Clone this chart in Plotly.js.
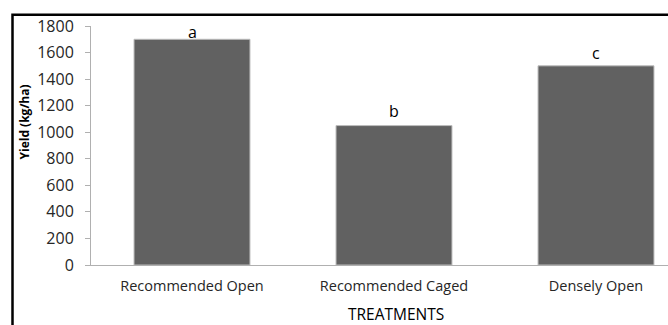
<!DOCTYPE html>
<html>
<head>
<meta charset="utf-8">
<script src="https://cdn.plot.ly/plotly-3.0.1.min.js"></script>
<style>
  html, body { margin: 0; padding: 0; background: #fff; }
  #chart { width: 668px; height: 325px; }
</style>
</head>
<body>
<div id="chart"></div>
<script>
// ---- data ----
const categories = ["Recommended Open", "Recommended Caged", "Densely Open"];
const yieldValues = [1700, 1050, 1500];
const letters = ["a", "b", "c"];
const yTicks = [0, 200, 400, 600, 800, 1000, 1200, 1400, 1600, 1800];

// ---- layout constants (pixels) ----
const W = 668, H = 325;
const L = 91, T = 26, B = 60, R = 0;
const plotW = W - L - R, plotH = H - T - B;
const catStep = 202;                 // px per category
const labelShift = [7.6, 14.3, 13];  // px above bar top for letter centres
const font = "Open Sans, Lato, sans-serif";

const xIdx = categories.map((c, i) => i);

const trace = {
  type: "bar",
  x: xIdx,
  y: yieldValues,
  width: 0.574,
  marker: { color: "#616161", line: { color: "#bdbdbd", width: 1 } },
  hoverinfo: "none"
};

const annotations = letters.map((t, i) => ({
  x: xIdx[i], y: yieldValues[i], xref: "x", yref: "y",
  text: t, showarrow: false, yanchor: "middle", xanchor: "center",
  yshift: labelShift[i],
  font: { family: font, size: 16, color: "#000" }
}));

annotations.push({
  x: 1, xref: "x", y: (-(313.5 - (H - B))) / plotH, yref: "paper",
  text: "TREATMENTS", showarrow: false, xanchor: "center", yanchor: "middle",
  xshift: 2,
  font: { family: font, size: 15.5, color: "#000" }
});
annotations.push({
  x: (24 - L) / plotW, xref: "paper", y: ((H - B) - 122.5) / plotH, yref: "paper",
  text: "<b>Yield (kg/ha)</b>", textangle: -90, showarrow: false,
  xanchor: "center", yanchor: "middle",
  font: { family: font, size: 12, color: "#000" }
});

const layout = {
  width: W, height: H,
  margin: { l: L, r: R, t: T, b: B, pad: 0 },
  paper_bgcolor: "#fff", plot_bgcolor: "#fff",
  showlegend: false,
  xaxis: {
    range: [-0.5, -0.5 + plotW / catStep],
    tickmode: "array", tickvals: xIdx, ticktext: categories,
    ticks: "", showgrid: false, zeroline: false,
    showline: true, linecolor: "#b0b0b0", linewidth: 1,
    tickfont: { family: font, size: 14.5, color: "#262626" },
    ticklabelstandoff: 8,
    fixedrange: true
  },
  yaxis: {
    range: [0, 1800],
    tickmode: "array", tickvals: yTicks, ticktext: yTicks.map(String),
    ticks: "outside", ticklen: 5, tickcolor: "#b0b0b0", tickwidth: 1,
    showgrid: false, zeroline: false,
    showline: true, linecolor: "#b0b0b0", linewidth: 1,
    tickfont: { family: font, size: 16, color: "#262626" },
    ticklabelstandoff: 8,
    fixedrange: true
  },
  annotations: annotations,
  shapes: [{
    type: "rect", xref: "paper", yref: "paper", layer: "above",
    x0: (12.5 - L) / plotW, x1: 1.2,
    y0: -0.6, y1: ((H - B) - 14.7) / plotH,
    line: { color: "#000", width: 2.5 }
  }]
};

Plotly.newPlot("chart", [trace], layout, { staticPlot: true, displayModeBar: false });
</script>
</body>
</html>
